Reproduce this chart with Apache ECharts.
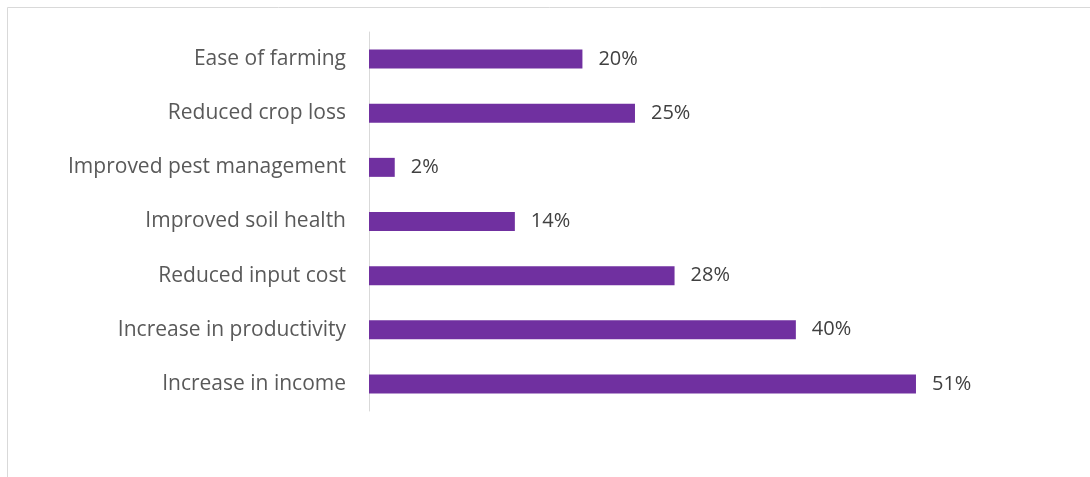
<!DOCTYPE html>
<html><head><meta charset="utf-8">
<script src="https://cdn.jsdelivr.net/npm/echarts@6/dist/echarts.min.js"></script>
<style>html,body{margin:0;padding:0;background:#fff}#c{width:1090px;height:477px}</style>
</head><body><div id="c"></div>
<script>
const categories = ["Increase in income","Increase in productivity","Reduced input cost","Improved soil health","Improved pest management","Reduced crop loss","Ease of farming"];
const values = [51, 39.8, 28.49, 13.6, 2.4, 24.8, 19.9];
const chart = echarts.init(document.getElementById('c'), null, {renderer:'canvas'});
chart.setOption({
  animation:false,
  backgroundColor:'#fff',
  graphic:[{type:'rect',shape:{x:7.5,y:7.5,width:1100,height:500},style:{fill:'none',stroke:'#d9d9d9',lineWidth:1},silent:true}],
  grid:{left:369,right:77.5,top:32,bottom:66,containLabel:false},
  xAxis:{type:'value',min:0,max:60,show:false},
  yAxis:{type:'category',data:categories,
    axisLine:{show:true,lineStyle:{color:'#d9d9d9',width:1}},
    axisTick:{show:false},
    axisLabel:{color:'#595959',fontFamily:'Open Sans',fontSize:21,margin:23}},
  series:[{type:'bar',data:values,barWidth:19,
    itemStyle:{color:'#7030A0'},
    label:{show:true,position:'right',distance:16,color:'#404040',fontFamily:'Open Sans',fontSize:20,
      formatter:p=>Math.round(p.value)+'%'}}]
});
</script></body></html>
